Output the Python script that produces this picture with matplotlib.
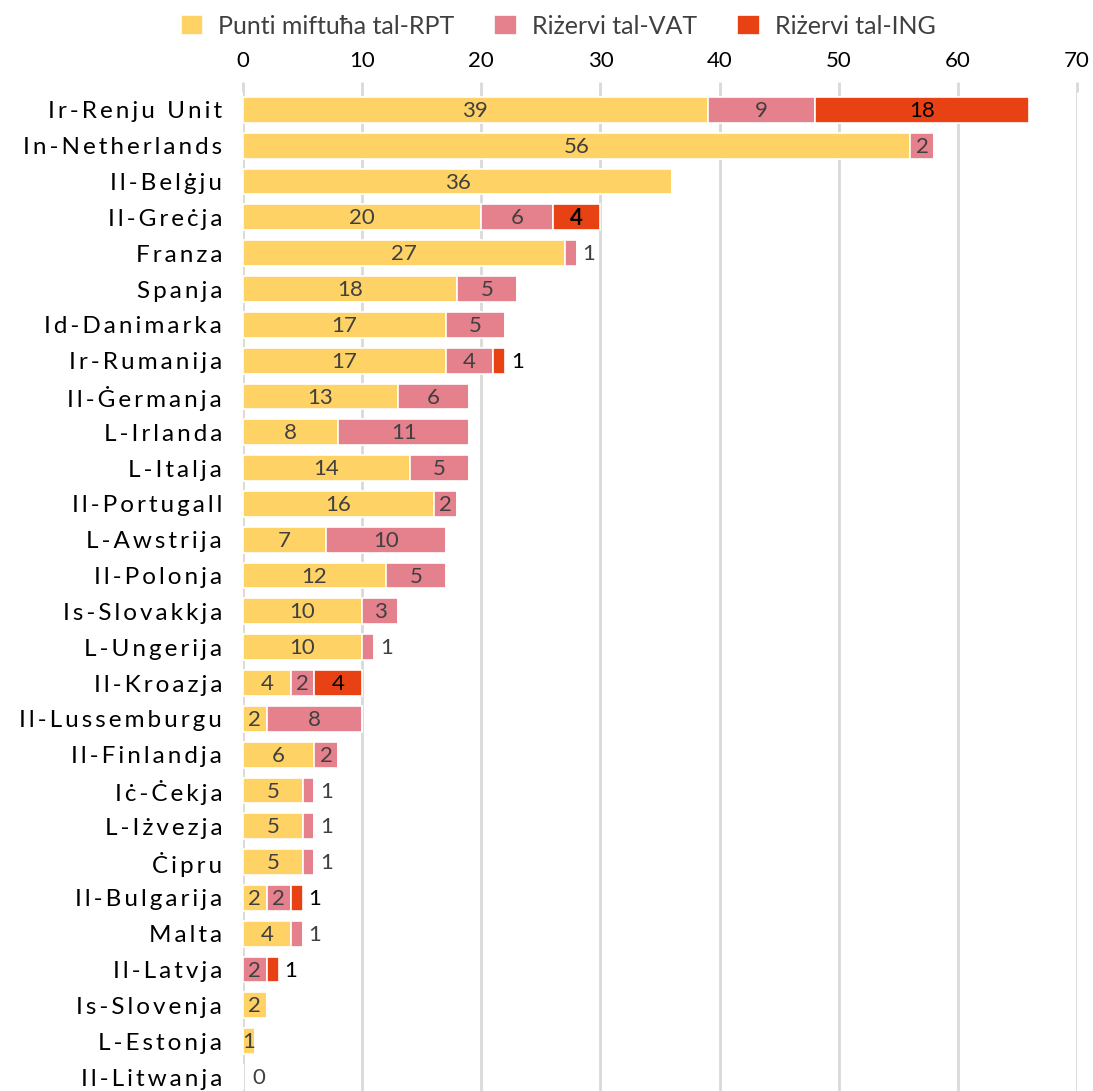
import numpy as np
import matplotlib.pyplot as plt

countries = ["Ir-Renju Unit", "In-Netherlands", "Il-Belġju", "Il-Greċja", "Franza",
             "Spanja", "Id-Danimarka", "Ir-Rumanija", "Il-Ġermanja", "L-Irlanda",
             "L-Italja", "Il-Portugall", "L-Awstrija", "Il-Polonja", "Is-Slovakkja",
             "L-Ungerija", "Il-Kroazja", "Il-Lussemburgu", "Il-Finlandja", "Iċ-Ċekja",
             "L-Iżvezja", "Ċipru", "Il-Bulgarija", "Malta", "Il-Latvja",
             "Is-Slovenja", "L-Estonja", "Il-Litwanja"]
rpt = [39, 56, 36, 20, 27, 18, 17, 17, 13, 8, 14, 16, 7, 12, 10, 10, 4, 2, 6, 5, 5, 5, 2, 4, 0, 2, 1, 0]
vat = [9, 2, 0, 6, 1, 5, 5, 4, 6, 11, 5, 2, 10, 5, 3, 1, 2, 8, 2, 1, 1, 1, 2, 1, 2, 0, 0, 0]
ing = [18, 0, 0, 4, 0, 0, 0, 1, 0, 0, 0, 0, 0, 0, 0, 0, 4, 0, 0, 0, 0, 0, 1, 0, 1, 0, 0, 0]
series_names = ["Punti miftuħa tal-RPT", "Riżervi tal-VAT", "Riżervi tal-ING"]
colors = ["#FFD266", "#E5808D", "#E84214"]
xticks = [0, 10, 20, 30, 40, 50, 60, 70]

FONT = ["Lato", "DejaVu Sans"]
plt.rcParams["font.family"] = FONT

fig = plt.figure(figsize=(10.93, 10.91), dpi=100)
ax = fig.add_axes([243 / 1093, 0.0, (1077 - 243) / 1093, 1 - 92 / 1091])

y = np.arange(len(countries))
left = np.zeros(len(countries))
bars = []
for vals, c, name in zip([rpt, vat, ing], colors, series_names):
    b = ax.barh(y, vals, left=left, height=0.72, color=c, edgecolor="white",
                linewidth=1.2, label=name, zorder=3)
    bars.append(b)
    left = left + np.array(vals)

totals = left
for i in range(len(countries)):
    start = 0
    for k, vals in enumerate([rpt, vat, ing]):
        v = vals[i]
        if v == 0:
            continue
        col = "#000000" if k == 2 else "#404040"
        if v == 1 and k > 0:
            ax.text(totals[i] + 0.5, y[i] + 0.03, "1", ha="left", va="center",
                    fontsize=16, color=col, zorder=4)
        else:
            bold = (countries[i] == "Il-Greċja" and k == 2)
            ax.text(start + v / 2, y[i] + 0.03, str(v), ha="center", va="center",
                    fontsize=16, color=col, zorder=4,
                    fontweight="bold" if bold else "normal")
        start += v
    if totals[i] == 0:
        ax.text(0.8, y[i] + 0.03, "0", ha="left", va="center", fontsize=16,
                color="#404040", zorder=4)

ax.set_xlim(0, 70)
ax.set_ylim(27.39, -0.5)
ax.set_xticks(xticks)
ax.xaxis.tick_top()
ax.tick_params(axis="x", length=7, width=2, color="#D9D9D9", labelsize=16,
               pad=8, labelcolor="#000000")
ax.set_yticks(y)
ax.set_yticklabels(["\u2009".join(c) for c in countries], fontsize=17.5)
ax.tick_params(axis="y", length=0, pad=15)
ax.grid(axis="x", color="#D9D9D9", linewidth=2, zorder=0)
for s in ["top", "right", "bottom", "left"]:
    ax.spines[s].set_visible(False)

fig.legend(handles=bars, labels=series_names, loc="center", ncol=3,
           bbox_to_anchor=(558 / 1093, 1 - 26 / 1091), frameon=False,
           fontsize=18, handlelength=0.9, handleheight=0.9,
           handletextpad=0.6, columnspacing=1.6, labelcolor="#404040")

fig.savefig("out.png", dpi=100)
